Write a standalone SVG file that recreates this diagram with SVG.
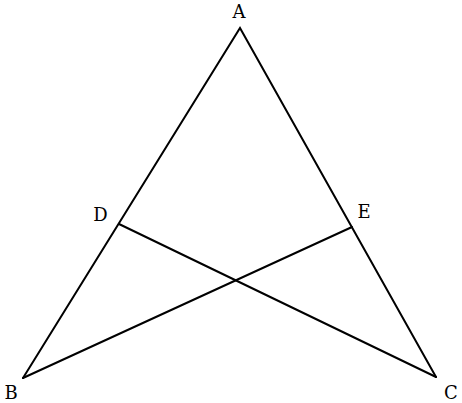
<svg xmlns="http://www.w3.org/2000/svg" width="462" height="403" viewBox="0 0 462 403">
<style>
.ln{stroke:#000;stroke-width:2;fill:none;stroke-linecap:round;stroke-linejoin:miter}
.lb{font-family:"DejaVu Serif","Liberation Serif",serif;font-size:18px;fill:#000}
</style>
<rect width="462" height="403" fill="#fff"/>
<g id="connectors">
<path class="ln" d="M23,378 L240,28 L436,377"/>
<line class="ln" x1="119" y1="224" x2="436" y2="377"/>
<line class="ln" x1="352" y1="227" x2="23" y2="378"/>
</g>
<g id="A"><text class="lb" x="239" y="18" text-anchor="middle">A</text></g>
<g id="B"><text class="lb" x="11" y="399" text-anchor="middle">B</text></g>
<g id="C"><text class="lb" x="451" y="399" text-anchor="middle">C</text></g>
<g id="D"><text class="lb" x="100.5" y="221" text-anchor="middle">D</text></g>
<g id="E"><text class="lb" x="364" y="218" text-anchor="middle">E</text></g>
</svg>
